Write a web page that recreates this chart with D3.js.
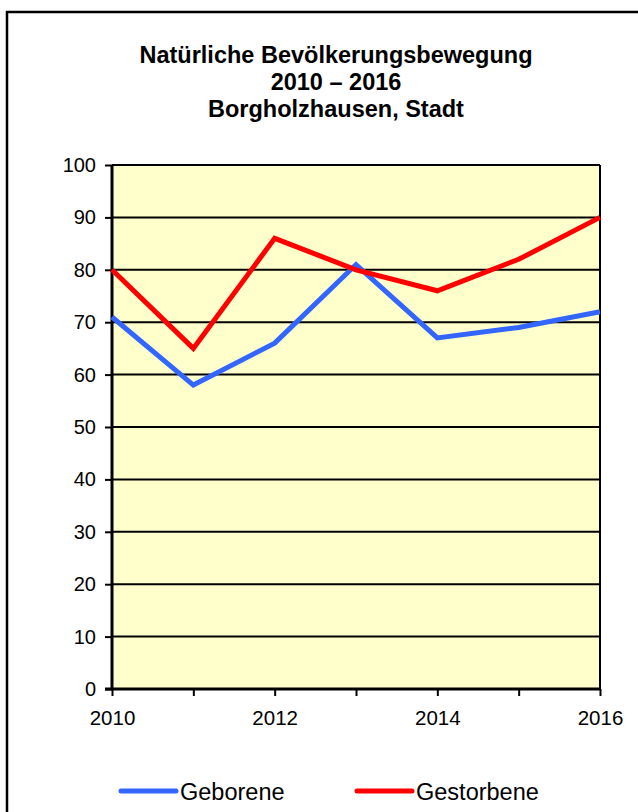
<!DOCTYPE html>
<html>
<head>
<meta charset="utf-8">
<script src="https://cdn.jsdelivr.net/npm/d3@7"></script>
<style>
  body { margin: 0; background: #fff; }
  text { font-family: "Liberation Sans", Arial, sans-serif; fill: #000; }
</style>
</head>
<body>
<div class="chart"></div>
<script>
// data
const years = [2010, 2011, 2012, 2013, 2014, 2015, 2016];
const geborene = [71, 58, 66, 81, 67, 69, 72];
const gestorbene = [80, 65, 86, 80, 76, 82, 90];
const yTicks = [0, 10, 20, 30, 40, 50, 60, 70, 80, 90, 100];
const xLabels = [2010, 2012, 2014, 2016];
const titleLines = ["Natürliche Bevölkerungsbewegung", "2010 – 2016", "Borgholzhausen, Stadt"];

function drawChart() {
    const width = 638;
    const height = 812;
    const svg = d3.select('.chart')
        .append('svg')
        .attr('width', width)
        .attr('height', height)

    // outer frame (runs off the right and bottom edge)
    svg.append("rect")
        .attr("x", 7)
        .attr("y", 12)
        .attr("width", 650)
        .attr("height", 820)
        .attr("fill", "none")
        .attr("stroke", "#000")
        .attr("stroke-width", 2.5)

    const plot = { left: 112, right: 600, top: 165, bottom: 689 };

    const x = d3.scaleLinear()
        .domain([2010, 2016])
        .range([plot.left, plot.right]);
    const y = d3.scaleLinear()
        .domain([0, 100])
        .range([plot.bottom, plot.top]);

    // title
    svg.append("text")
        .attr("text-anchor", "middle")
        .attr("font-weight", "bold")
        .attr("font-size", 23.5)
        .selectAll("tspan")
        .data(titleLines)
        .enter()
        .append("tspan")
        .attr("x", 336)
        .attr("y", function(d, i) { return 63 + i * 27; })
        .text(function(d) { return d; })

    // plot background
    svg.append("rect")
        .attr("x", plot.left)
        .attr("y", plot.top)
        .attr("width", plot.right - plot.left)
        .attr("height", plot.bottom - plot.top)
        .attr("fill", "#FFFFCC")

    // gridlines
    svg.selectAll(".grid")
        .data(yTicks.slice(1))
        .enter()
        .append("line")
        .attr("class", "grid")
        .attr("x1", plot.left)
        .attr("x2", plot.right)
        .attr("y1", function(d) { return y(d); })
        .attr("y2", function(d) { return y(d); })
        .attr("stroke", "#000")
        .attr("stroke-width", 2)

    // right border
    svg.append("line")
        .attr("x1", plot.right).attr("x2", plot.right)
        .attr("y1", plot.top).attr("y2", plot.bottom)
        .attr("stroke", "#000")
        .attr("stroke-width", 2)

    // y axis
    const yAxis = svg.append("g")
        .attr("transform", "translate(" + plot.left + ",0)")
        .call(d3.axisLeft(y).tickValues(yTicks).tickSize(7).tickPadding(9));
    yAxis.select(".domain").attr("stroke-width", 3).attr("d", "M0," + plot.top + "V" + plot.bottom);
    yAxis.selectAll(".tick line").attr("stroke-width", 2);
    yAxis.selectAll("text").attr("font-size", 20).attr("font-family", null);

    // x axis
    const xAxis = svg.append("g")
        .attr("transform", "translate(0," + plot.bottom + ")")
        .call(d3.axisBottom(x).tickValues(years).tickSize(7).tickPadding(14).tickFormat(function(d) {
            return xLabels.indexOf(d) >= 0 ? d : "";
        }));
    xAxis.select(".domain").attr("stroke-width", 3).attr("d", "M" + (plot.left - 7) + ",0H" + plot.right);
    xAxis.selectAll(".tick line").attr("stroke-width", 2);
    xAxis.selectAll("text").attr("font-size", 20.5).attr("font-family", null);

    // lines
    const line = d3.line()
        .x(function(d, i) { return x(years[i]); })
        .y(function(d) { return y(d); });

    svg.append("path")
        .datum(geborene)
        .attr("d", line)
        .attr("fill", "none")
        .attr("stroke", "#3366FF")
        .attr("stroke-width", 5)

    svg.append("path")
        .datum(gestorbene)
        .attr("d", line)
        .attr("fill", "none")
        .attr("stroke", "#FF0000")
        .attr("stroke-width", 5)

    // legend
    const legend = [
        { name: "Geborene", color: "#3366FF", x: 121 },
        { name: "Gestorbene", color: "#FF0000", x: 357 }
    ];
    const items = svg.selectAll(".legend")
        .data(legend)
        .enter()
        .append("g")
        .attr("class", "legend")
        .attr("transform", function(d) { return "translate(" + d.x + ",791)"; })
    items.append("line")
        .attr("x1", 0).attr("x2", 55)
        .attr("stroke", function(d) { return d.color; })
        .attr("stroke-width", 5)
        .attr("stroke-linecap", "round")
    items.append("text")
        .attr("x", 59)
        .attr("y", 8.5)
        .attr("font-size", 23.5)
        .text(function(d) { return d.name; })
}

drawChart();
</script>
</body>
</html>
